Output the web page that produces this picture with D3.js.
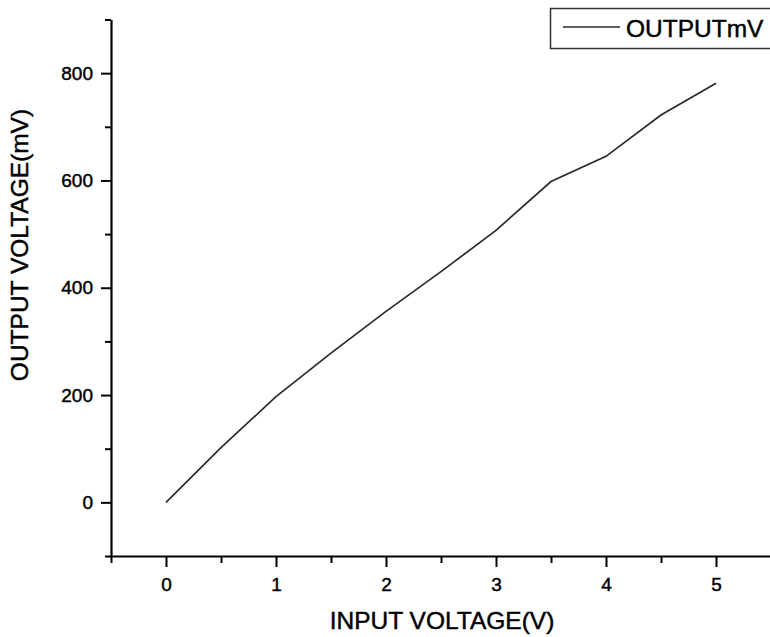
<!DOCTYPE html>
<html>
<head>
<meta charset="utf-8">
<script src="https://cdn.jsdelivr.net/npm/d3@7"></script>
<style>
  html, body { margin: 0; padding: 0; background: #fff; }
  svg { display: block; font-family: "Liberation Sans", Arial, sans-serif; }
</style>
</head>
<body>
<svg id="chart" width="770" height="637"></svg>
<script>
const inputVoltage = [0, 0.5, 1, 1.5, 2, 2.5, 3, 3.5, 4, 4.5, 5];
const outputMv = [0, 102, 197, 278, 356, 430, 507, 598, 645, 722, 781];
const xMajorTicks = [0, 1, 2, 3, 4, 5];
const xMinorTicks = [-0.5, 0.5, 1.5, 2.5, 3.5, 4.5, 5.5];
const yMajorTicks = [0, 200, 400, 600, 800];
const yMinorTicks = [-100, 100, 300, 500, 700, 900];
const seriesName = "OUTPUTmV";
const xTitle = "INPUT VOLTAGE(V)";
const yTitle = "OUTPUT VOLTAGE(mV)";

const svg = d3.select("#chart");
const x = d3.scaleLinear().domain([-0.5, 5.5]).range([111, 771]);
const y = d3.scaleLinear().domain([-100, 900]).range([556, 19.5]);

// minor ticks
svg.append("g").attr("transform", "translate(0,556)")
  .call(d3.axisBottom(x).tickValues(xMinorTicks).tickSize(7).tickSizeOuter(0).tickFormat(""))
  .call(g => g.select(".domain").remove())
  .call(g => g.selectAll("line").attr("stroke", "#000").attr("stroke-width", 2));
svg.append("g").attr("transform", "translate(111,0)")
  .call(d3.axisLeft(y).tickValues(yMinorTicks).tickSize(6).tickSizeOuter(0).tickFormat(""))
  .call(g => g.select(".domain").remove())
  .call(g => g.selectAll("line").attr("stroke", "#000").attr("stroke-width", 2));

// major ticks + labels
const xAxis = svg.append("g").attr("transform", "translate(0,556)")
  .call(d3.axisBottom(x).tickValues(xMajorTicks).tickSize(11).tickSizeOuter(0).tickPadding(11).tickFormat(d3.format("d")));
const yAxis = svg.append("g").attr("transform", "translate(111,0)")
  .call(d3.axisLeft(y).tickValues(yMajorTicks).tickSize(10).tickSizeOuter(0).tickPadding(8).tickFormat(d3.format("d")));
[xAxis, yAxis].forEach(g => {
  g.select(".domain").attr("stroke", "#000").attr("stroke-width", 2.2);
  g.selectAll(".tick line").attr("stroke", "#000").attr("stroke-width", 2);
  g.selectAll(".tick text").attr("fill", "#000").attr("stroke", "#000").attr("stroke-width", 0.45)
    .style("font-size", "19px")
    .style("font-family", "'Liberation Sans', Arial, sans-serif");
});

// data line
const line = d3.line().x((d, i) => x(inputVoltage[i])).y(d => y(d));
svg.append("path").datum(outputMv)
  .attr("d", line).attr("fill", "none")
  .attr("stroke", "#2a2a2a").attr("stroke-width", 1.7);

// axis titles
svg.append("text").attr("x", 442).attr("y", 629)
  .attr("text-anchor", "middle").style("font-size", "24.5px")
  .attr("fill", "#000").attr("stroke", "#000").attr("stroke-width", 0.45)
  .text(xTitle);
svg.append("text").attr("transform", "translate(28,245) rotate(-90)")
  .attr("text-anchor", "middle").style("font-size", "24.5px")
  .attr("fill", "#000").attr("stroke", "#000").attr("stroke-width", 0.45)
  .text(yTitle);

// legend
const leg = svg.append("g");
leg.append("rect").attr("x", 550.5).attr("y", 8.5).attr("width", 240).attr("height", 40)
  .attr("fill", "#fff").attr("stroke", "#333").attr("stroke-width", 1.5);
leg.append("line").attr("x1", 563).attr("x2", 620).attr("y1", 27).attr("y2", 27)
  .attr("stroke", "#2a2a2a").attr("stroke-width", 1.7);
leg.append("text").attr("x", 626).attr("y", 36.5).style("font-size", "24.5px")
  .attr("fill", "#000").attr("stroke", "#000").attr("stroke-width", 0.45)
  .text(seriesName);
</script>
</body>
</html>
